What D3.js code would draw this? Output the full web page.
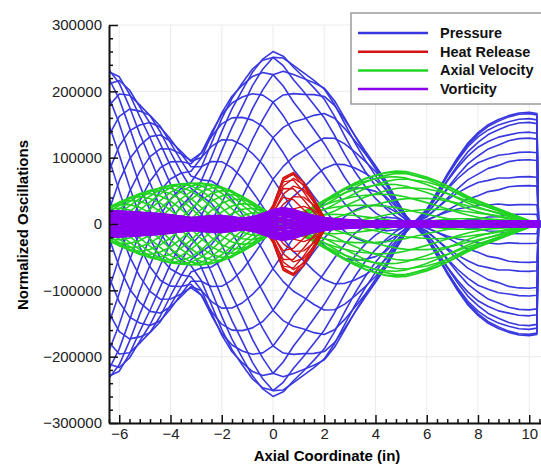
<!DOCTYPE html>
<html>
<head>
<meta charset="utf-8">
<script src="https://cdn.jsdelivr.net/npm/d3@7"></script>
<style>
body { margin: 0; background: #fff; }
svg { display: block; font-family: Arial, "Liberation Sans", sans-serif; }
</style>
</head>
<body>
<svg id="chart" width="541" height="473"></svg>
<script>

// Axial stations (in)
var xs = [-6.4, -6.0, -5.6, -5.2, -4.8, -4.4, -4.0, -3.6, -3.2, -2.8, -2.4, -2.0, -1.6, -1.2, -0.8, -0.4,
          0.0, 0.4, 0.8, 1.2, 1.6, 2.0, 2.4, 2.8, 3.2, 3.6, 4.0, 4.4, 4.8, 5.2, 5.6, 6.0, 6.4, 6.8,
          7.2, 7.6, 8.0, 8.4, 8.8, 9.2, 9.6, 10.0, 10.4];

// Pressure mode shape: amplitude (x1000) and phase (deg)
var pressureX = [-6.4, -6.0, -5.6, -5.2, -4.8, -4.4, -4.0, -3.6, -3.2, -2.8, -2.4, -2.0, -1.6, -1.2, -0.8, -0.4,
          0.0, 0.4, 0.8, 1.2, 1.6, 2.0, 2.4, 2.8, 3.2, 3.6, 4.0, 4.4, 4.8, 5.2, 5.6, 6.0, 6.4, 6.8,
          7.2, 7.6, 8.0, 8.4, 8.8, 9.2, 9.6, 10.0, 10.3, 10.36, 10.6];
var pressureAmp = [233, 222, 202, 180, 165, 148, 128, 110, 96, 108, 138, 168, 193, 213, 234, 250,
          260, 254, 240, 228, 217, 206, 186, 160, 134, 110, 88, 66, 38, 12, 6, 22, 48, 75,
          100, 122, 138, 150, 158, 164, 168, 169, 167, 4, 4];
var pressurePhase = [170, 158, 146, 134, 122, 110, 98, 86, 74, 63, 53, 44, 36, 29, 22, 16,
          10, 5, 0, -4, -9, -14, -19, -24, -29, -34, -39, -44, -48, -52, 125, 128, 130, 131,
          132, 133, 133, 134, 134, 135, 135, 135, 135, 135, 135];

// Axial velocity
var velocityAmp = [26, 33, 40, 46, 51, 55, 59, 61, 62, 62, 60, 56, 50, 42, 33, 23,
          13, 8, 12, 19, 27, 36, 45, 54, 62, 69, 74, 78, 80, 79, 75, 71, 65, 58,
          50, 42, 35, 29, 23, 17, 11, 5, 1];
var velocityPhase = [40, 26, 12, -2, -16, -30, -44, -58, -72, -86, -100, -114, -128, -142, -156, -170,
          -184, -190, -10, -6, -2, 2, 6, 10, 13, 16, 18, 20, 22, 24, 26, 28, 30, 32,
          34, 36, 38, 40, 42, 44, 46, 48, 50];

// Heat release
var heatX = [-0.8, -0.4, 0.0, 0.4, 0.8, 1.2, 1.6, 2.0, 2.4, 2.8, 3.2, 3.6, 4.0, 4.4, 4.8, 5.2];
var heatAmp = [0, 4, 28, 70, 78, 63, 38, 10, 7, 5, 4, 3, 3, 2, 1, 0];
var heatPhase = [0, 0, 0, 5, 12, 20, 28, 40, 60, 80, 100, 120, 140, 160, 180, 200];

// Vorticity
var vorticityAmp = [20, 19, 18, 17, 16, 15, 13, 11, 9, 10, 12, 12, 10, 8, 10, 15,
          21, 24, 21, 16, 12, 9, 7, 6, 5, 4, 4, 4, 4, 4, 4, 4, 4, 4,
          4, 4, 4, 4, 4, 4, 4, 4, 4];
var vorticityPhase = [0, -20, -40, -60, -80, -100, -120, -140, -160, -180, -200, -220, -240, -260, -280, -300,
          -320, -330, -340, -350, -360, -370, -380, -390, -400, -410, -420, -430, -440, -450, -460, -470, -480, -490,
          -500, -510, -520, -530, -540, -550, -560, -570, -580];

// Snapshot phases over one cycle (deg)
var snapshots = [5, 20, 35, 50, 65, 80, 95, 110, 125, 140, 155, 170,
          185, 200, 215, 230, 245, 260, 275, 290, 305, 320, 335, 350];

var xTicks = [-6, -4, -2, 0, 2, 4, 6, 8, 10];
var yTicks = [-300000, -200000, -100000, 0, 100000, 200000, 300000];

var legendNames = ['Pressure', 'Heat Release', 'Axial Velocity', 'Vorticity'];
var legendColors = ['#3838e0', '#d41414', '#22d422', '#8a00ee'];

//--------------------------------------------------------------
// Scales

var svg = d3.select('#chart');

var x = d3.scaleLinear().domain([-6.4, 10.6]).range([109, 544.6]);
var y = d3.scaleLinear().domain([-300000, 300000]).range([423, 25]);

svg.append('defs').append('clipPath')
    .attr('id', 'plotclip')
  .append('rect')
    .attr('x', 109).attr('y', 0)
    .attr('width', 440).attr('height', 423);

// Grid
var grid = svg.append('g').attr('stroke', '#ebebeb').attr('stroke-width', 1);
grid.selectAll('line.v').data(xTicks).enter()
    .append('line')
      .attr('x1', function(d){ return x(d); }).attr('x2', function(d){ return x(d); })
      .attr('y1', 25).attr('y2', 423);
grid.selectAll('line.h').data(yTicks).enter()
    .append('line')
      .attr('x1', 109).attr('x2', 541)
      .attr('y1', function(d){ return y(d); }).attr('y2', function(d){ return y(d); });

//--------------------------------------------------------------
// Curves

function snapshotCurves(px, amp, phase, theta)
{
    return px.map(function(v, i)
    {
        return [v, amp[i] * 1000 * Math.cos((theta + phase[i]) * Math.PI / 180)];
    });
}

var line = d3.line()
    .x(function(d){ return x(d[0]); })
    .y(function(d){ return y(d[1]); });

var plot = svg.append('g').attr('clip-path', 'url(#plotclip)');

function drawFamily(px, amp, phase, color, width)
{
    plot.append('g')
      .selectAll('path')
        .data(snapshots)
      .enter()
        .append('path')
          .attr('d', function(t){ return line(snapshotCurves(px, amp, phase, t)); })
          .attr('fill', 'none')
          .attr('stroke', color)
          .attr('stroke-width', width)
          .attr('stroke-linejoin', 'round');
}

drawFamily(pressureX, pressureAmp, pressurePhase, legendColors[0], 1.6);
drawFamily(xs, velocityAmp, velocityPhase, legendColors[2], 1.6);
drawFamily(heatX, heatAmp, heatPhase, legendColors[1], 1.4);
drawFamily(xs, vorticityAmp, vorticityPhase, legendColors[3], 2.8);

//--------------------------------------------------------------
// Axes

var minorX = d3.range(-6.4, 10.6, 0.4).filter(function(v){ return Math.abs(v / 2 - Math.round(v / 2)) > 0.01; });
var minorY = d3.range(-300000, 300001, 20000).filter(function(v){ return v % 100000 != 0; });

svg.append('g')
    .attr('transform', 'translate(109,0)')
    .call(d3.axisLeft(y).tickValues(yTicks).tickSize(-9).tickSizeOuter(0).tickPadding(7).tickFormat(d3.format('d')));
svg.append('g')
    .attr('transform', 'translate(109,0)')
    .call(d3.axisLeft(y).tickValues(minorY).tickSize(-4).tickSizeOuter(0).tickFormat(''))
    .select('.domain').remove();

svg.append('g')
    .attr('transform', 'translate(0,423)')
    .call(d3.axisBottom(x).tickValues(xTicks).tickSize(-8).tickSizeOuter(0).tickPadding(5));
svg.append('g')
    .attr('transform', 'translate(0,423)')
    .call(d3.axisBottom(x).tickValues(minorX).tickSize(-4).tickSizeOuter(0).tickFormat(''))
    .select('.domain').remove();

svg.selectAll('.domain').attr('stroke', '#111').attr('stroke-width', 2);
svg.selectAll('.tick line').attr('stroke', '#111').attr('stroke-width', 1.5);
svg.selectAll('.tick text').attr('fill', '#222').style('font-size', '15px');

svg.append('text')
    .attr('x', 327).attr('y', 461)
    .attr('text-anchor', 'middle')
    .style('font-size', '15px').style('font-weight', 'bold')
    .text('Axial Coordinate (in)');

svg.append('text')
    .attr('transform', 'translate(28,225) rotate(-90)')
    .attr('text-anchor', 'middle')
    .style('font-size', '15px').style('font-weight', 'bold')
    .text('Normalized Oscillations');

//--------------------------------------------------------------
// Legend

var legend = svg.append('g');
legend.append('rect')
    .attr('x', 351).attr('y', 13)
    .attr('width', 250).attr('height', 91)
    .attr('fill', '#fff').attr('stroke', '#9a9a9a').attr('stroke-width', 1.5);

var rows = legend.selectAll('g.row')
    .data(legendNames)
  .enter()
    .append('g')
      .attr('transform', function(d, i){ return 'translate(0,' + (33 + i * 18.7) + ')'; });

rows.append('line')
    .attr('x1', 358).attr('x2', 428)
    .attr('stroke', function(d, i){ return legendColors[i]; })
    .attr('stroke-width', 2.5);

rows.append('text')
    .attr('x', 440).attr('y', 5)
    .style('font-size', '14.5px').style('font-weight', 'bold')
    .attr('fill', '#111')
    .text(function(d){ return d; });

</script>
</body>
</html>
